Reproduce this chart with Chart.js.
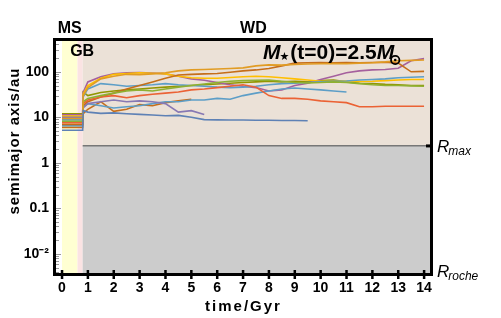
<!DOCTYPE html>
<html>
<head>
<meta charset="utf-8">
<script src="https://cdn.jsdelivr.net/npm/chart.js@4"></script>
<style>
  html, body { margin: 0; padding: 0; background: #fff; }
</style>
</head>
<body>
<canvas id="orbits" width="501" height="318"></canvas>
<script>
// Phase boundaries (Gyr) and limits
const msEnd = 0.8;
const gbStart = 0.6;
const rMax = 2.35;

// Tick values
const xTicks = [0, 1, 2, 3, 4, 5, 6, 7, 8, 9, 10, 11, 12, 13, 14];
const yTicks = [0.01, 0.1, 1, 10, 100];
const yTickLabels = ['10\u207B\u00B2', '0.1', '1', '10', '100'];

// Sample times after the white dwarf forms
const wdTimes = [0.82, 1, 1.5, 2, 2.5, 3, 3.5, 4, 4.5, 5, 5.5, 6, 6.5, 7, 7.5, 8, 8.5, 9, 9.5, 10, 10.5, 11, 11.5, 12, 12.5, 13, 13.5, 14];

// Semimajor axis on the main sequence (au)
const msA = [5.2, 9.4, 8.2, 7.6, 10, 7, 6.5, 8.8, 10.6, 11.3, 12, 6];

// Semimajor axis during the WD phase (au), one list per planet
const blueA = [14, 13, 12.2, 12.5, 12, 11.6, 11.2, 10.8, 11, 10, 8.9, 8.8, 8.7, 8.7, 8.6, 8.6, 8.5, 8.5, 8.4];
const orangeA = [30, 45, 70, 80, 88, 86, 90, 95, 105, 110, 112, 115, 118, 122, 135, 142, 140, 145, 148, 150, 152, 150, 155, 158, 165, 175, 178, 182];
const greenA = [22, 26, 30, 34, 38, 40, 38, 42, 46, 50, 54, 58, 62, 64, 65, 66, 62, 58, 57, 58, 60, 58, 55, 52, 50, 50, 49, 48];
const redA = [20, 24, 28, 30, 27, 30, 32, 34, 36, 40, 42, 45, 48, 52, 46, 30, 26, 26, 25, 23, 22, 21, 17, 17, 17.5, 17.5, 17.5, 17.5];
const purpleA = [16, 20, 22, 24, 22, 23, 22, 20, 13, 14, 11.5];
const brownA = [18, 22, 28, 34, 42, 50, 60, 72, 85, 88, 90, 92, 98, 105, 110, 118, 135, 155, 158, 160, 158, 160, 158, 160, 162, 155, 100, 102];
const skyA = [17, 20, 18, 16, 17, 18, 20, 22, 22, 24, 24, 26, 25, 30, 34, 38, 42, 44, 42, 40, 38, 36];
const sky2A = [28, 42, 55, 52, 48, 50, 52, 55, 52, 50, 48, 46, 45, 46, 48, 52, 55, 56, 58, 60, 62, 63, 66, 68, 70, 74, 76, 78];
const yellowA = [32, 50, 72, 88, 92, 95, 93, 90, 80, 74, 72, 72, 75, 78, 80, 78, 74, 70, 66, 62, 62, 63, 61, 62, 64, 66, 68, 68];
const magentaA = [35, 60, 78, 90, 95, 96, 94, 90, 80, 70, 65, 58, 52, 48, 45, 38, 40, 50, 56, 68, 80, 95, 105, 110, 112, 120, 175, 195];
const oliveA = [36, 30, 35, 38, 40, 42, 44, 46, 48, 50, 52, 54, 56, 58, 60, 62, 60, 62, 60, 64, 66, 60, 56, 55, 53, 52, 50, 50];
const brown2A = [12, 15, 22, 13.5, 15, 19, 18, 21, 23, 25];

const planets = [blueA, orangeA, greenA, redA, purpleA, brownA, skyA, sky2A, yellowA, magentaA, oliveA, brown2A];
const colors = ['#5E81B5', '#E19C24', '#8FB032', '#EB6235', '#8778B3', '#C56E1A', '#5D9EC7', '#5D9EC7', '#FFBF00', '#A5609D', '#929600', '#C56E1A'];

const datasets = planets.map((arr, i) => {
  const pts = [{ x: 0, y: msA[i] }, { x: msEnd, y: msA[i] }];
  arr.forEach((v, j) => pts.push({ x: wdTimes[j], y: v }));
  return {
    data: pts,
    borderColor: colors[i],
    borderWidth: 1.6,
    pointRadius: 0,
    fill: false,
    tension: 0
  };
});

const FONT = '"Liberation Sans", Arial, sans-serif';

// Backgrounds for the stellar phases, frame and annotations
const phasePlugin = {
  id: 'phases',
  beforeDraw(chart) {
    const { ctx, chartArea: a, scales: { x, y } } = chart;
    ctx.save();
    ctx.fillStyle = '#fff';
    ctx.fillRect(0, 0, chart.width, chart.height);
    const x0 = x.getPixelForValue(0), x1 = x.getPixelForValue(gbStart), x2 = x.getPixelForValue(msEnd);
    const yr = y.getPixelForValue(rMax);
    ctx.fillStyle = '#FFFFD2';
    ctx.fillRect(x0, a.top, x1 - x0, a.bottom - a.top);
    ctx.fillStyle = '#FBE3E3';
    ctx.fillRect(x1, a.top, x2 - x1, a.bottom - a.top);
    ctx.fillStyle = '#EBE1D7';
    ctx.fillRect(x2, a.top, a.right - x2, yr - a.top);
    ctx.fillStyle = '#CCCCCC';
    ctx.fillRect(x2, yr, a.right - x2, a.bottom - yr);
    ctx.fillStyle = '#777';
    ctx.fillRect(x2, Math.round(yr) - 1, a.right - x2, 1.5);
    ctx.restore();
  },
  afterDraw(chart) {
    const { ctx, chartArea: a, scales: { x, y } } = chart;
    const L = Math.round(a.left), R = Math.round(a.right), T = Math.round(a.top), B = Math.round(a.bottom);
    const yr = y.getPixelForValue(rMax);
    ctx.save();
    ctx.fillStyle = '#000';
    ctx.textBaseline = 'alphabetic';

    // phase labels
    ctx.textAlign = 'center';
    ctx.font = 'bold 16px ' + FONT;
    ctx.fillText('MS', x.getPixelForValue(0.3), 33);
    ctx.fillText('WD', x.getPixelForValue(7.4), 33);
    ctx.fillText('GB', x.getPixelForValue(0.78), 56);

    // stellar mass label
    ctx.textAlign = 'left';
    let cx = 263;
    const base = 59;
    ctx.font = 'italic bold 21px ' + FONT;
    ctx.fillText('M', cx, base);
    cx += ctx.measureText('M').width - 1;
    ctx.font = '11px "DejaVu Sans"';
    ctx.fillText('\u2605', cx, base + 1);
    cx += ctx.measureText('\u2605').width + 1;
    ctx.font = 'bold 21px ' + FONT;
    ctx.fillText('(t=0)=2.5', cx, base);
    cx += ctx.measureText('(t=0)=2.5').width;
    ctx.font = 'italic bold 21px ' + FONT;
    ctx.fillText('M', cx, base);
    cx += ctx.measureText('M').width;
    ctx.beginPath();
    ctx.lineWidth = 1.8;
    ctx.strokeStyle = '#000';
    ctx.arc(cx + 1, base + 1, 4.2, 0, Math.PI * 2);
    ctx.stroke();
    ctx.beginPath();
    ctx.arc(cx + 1, base + 1, 1.3, 0, Math.PI * 2);
    ctx.fill();

    // R labels on the right
    const drawR = (sub, py) => {
      ctx.font = 'italic 17px ' + FONT;
      ctx.fillText('R', R + 7, py);
      const w = ctx.measureText('R').width;
      ctx.font = 'italic 12px ' + FONT;
      ctx.fillText(sub, R + 6 + w, py + 3);
    };
    drawR('max', yr + 6);
    drawR('roche', B + 3);

    // axis titles
    ctx.font = 'bold 15px ' + FONT;
    ctx.textAlign = 'center';
    ctx.letterSpacing = '2px';
    ctx.fillText('time/Gyr', (a.left + a.right) / 2 + 1, 311);
    ctx.save();
    ctx.translate(19, 141);
    ctx.rotate(-Math.PI / 2);
    ctx.letterSpacing = '1px';
    ctx.fillText('semimajor axis/au', 0, 0);
    ctx.restore();
    ctx.letterSpacing = '0px';

    // y ticks, major and minor
    ctx.fillStyle = '#999';
    for (let e = -3; e <= 2; e++) {
      for (let k = 1; k <= 9; k++) {
        const py = y.getPixelForValue(k * Math.pow(10, e));
        if (py < a.top || py > a.bottom) continue;
        ctx.fillRect(L + 1, Math.round(py), k === 1 ? 5 : 3, 1);
      }
    }

    // frame
    ctx.fillStyle = '#000';
    ctx.fillRect(L - 2, T - 2, R - L + 5, 3);
    ctx.fillRect(R, T - 2, 3, B - T + 3);
    ctx.fillRect(L - 2, T - 2, 3, B - T + 4);
    ctx.fillRect(L - 2, B - 1, R - L + 5, 3);
    // x ticks
    xTicks.forEach(v => {
      const px = x.getPixelForValue(v);
      ctx.fillRect(px - 1.2, B - 4, 2.5, 9);
    });
    // Rmax mark on the right edge
    ctx.fillRect(R - 4, yr - 1.5, 5, 3);
    ctx.restore();
  }
};

new Chart(document.getElementById('orbits'), {
  type: 'line',
  data: { datasets },
  options: {
    responsive: false,
    animation: false,
    layout: { padding: { top: 40, right: 71, left: 0, bottom: 0 } },
    plugins: { legend: { display: false }, tooltip: { enabled: false } },
    scales: {
      x: {
        type: 'linear',
        min: -0.27,
        max: 14.23,
        grid: { display: false, drawTicks: false },
        border: { display: false },
        afterBuildTicks: s => { s.ticks = xTicks.map(v => ({ value: v })); },
        ticks: { color: '#000', font: { family: FONT, size: 14, weight: 'bold' }, padding: 6, maxRotation: 0, autoSkip: false },
        afterFit: s => { s.height = 44; }
      },
      y: {
        type: 'logarithmic',
        min: 0.0036,
        max: 500,
        grid: { display: false, drawTicks: false },
        border: { display: false },
        afterBuildTicks: s => { s.ticks = yTicks.map(v => ({ value: v })); },
        ticks: {
          color: '#000',
          font: { family: FONT, size: 14, weight: 'bold' },
          padding: 6,
          autoSkip: false,
          callback: (v, i) => yTickLabels[i]
        },
        afterFit: s => { s.width = 55; }
      }
    }
  },
  plugins: [phasePlugin]
});
</script>
</body>
</html>
